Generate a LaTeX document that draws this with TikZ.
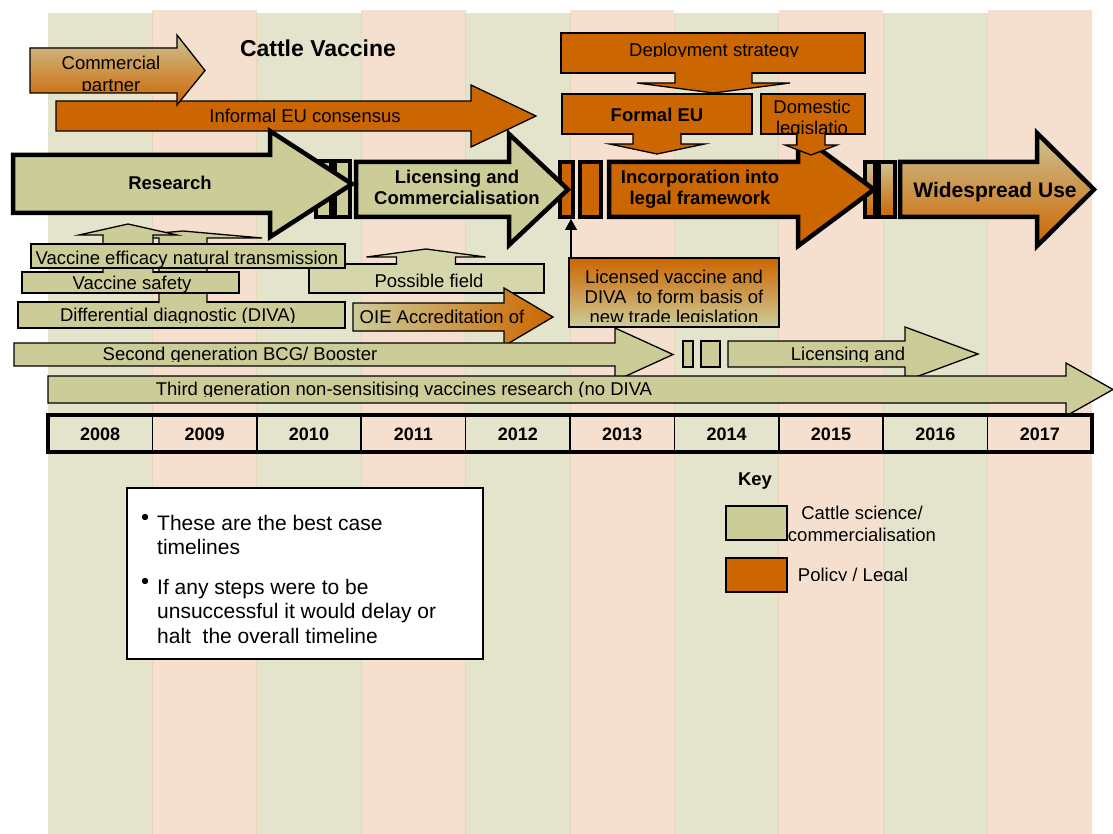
\documentclass[tikz,border=0pt]{standalone}
\usepackage{fontspec}
\setmainfont{Liberation Sans}
\usetikzlibrary{arrows.meta}

\definecolor{scienceColor}{RGB}{204,204,153}
\definecolor{policyColor}{RGB}{204,102,0}
\definecolor{tanColor}{RGB}{206,194,148}
\definecolor{greenColumn}{RGB}{227,228,203}
\definecolor{pinkColumn}{RGB}{245,224,208}
\definecolor{columnEdge}{RGB}{233,214,182}

\tikzstyle{pixelGrid} = [x=1pt, y=-1pt]
\tikzstyle{thinBorder} = [draw=black, line width=1.3pt, line join=miter]
\tikzstyle{thickBorder} = [draw=black, line width=4.5pt, line join=miter]
\tikzstyle{scienceShape} = [thinBorder, fill=scienceColor]
\tikzstyle{scienceStage} = [thickBorder, fill=scienceColor]
\tikzstyle{policyShape} = [thinBorder, fill=policyColor]
\tikzstyle{policyStage} = [thickBorder, fill=policyColor]
\tikzstyle{mixedShape} = [thinBorder, top color=tanColor, bottom color=policyColor]
\tikzstyle{mixedStage} = [thickBorder, top color=tanColor, bottom color=policyColor]
\tikzstyle{labelText} = [font=\fontsize{18.5}{21}\selectfont, inner sep=0pt, text height=13pt, text depth=0pt]
\tikzstyle{stageText} = [labelText, font=\fontsize{18.5}{21}\selectfont\bfseries]
\tikzstyle{yearText} = [stageText, font=\fontsize{18}{21}\selectfont\bfseries]
\tikzstyle{titleText} = [inner sep=0pt, text height=16.5pt, text depth=0pt, font=\fontsize{23}{26}\selectfont\bfseries]
\tikzstyle{bigStageText} = [inner sep=0pt, text height=15pt, text depth=0pt, font=\fontsize{21}{24}\selectfont\bfseries]
\tikzstyle{noteText} = [inner sep=0pt, font=\fontsize{21}{24}\selectfont]

% style, left, head start, tip, body top, body bottom, head top, head bottom
\newcommand{\rightStage}[8]{\filldraw [#1] (#2,#5) -- (#3,#5) -- (#3,#7) -- (#4,{(#5+#6)/2}) -- (#3,#8) -- (#3,#6) -- (#2,#6) -- cycle;}
% style, centre x, stem half width, head half width, stem start, head base, tip
\newcommand{\calloutPointer}[7]{\filldraw [#1] (#2-#3,#5) -- (#2-#3,#6) -- (#2-#4,#6) -- (#2,#7) -- (#2+#4,#6) -- (#2+#3,#6) -- (#2+#3,#5);}
% style, name, x, y, clip bottom, text
\newcommand{\clippedLabel}[6]{
  \begin{scope}
    \clip (#3-300,#4-30) rectangle (#3+300,#5);
    \node [#1] (#2) at (#3,#4) {#6};
  \end{scope}
}

\begin{document}
\begin{tikzpicture}[pixelGrid]
    \useasboundingbox (0,0) rectangle (1113,834);
    \fill [white] (0,0) rectangle (1113,834);
    % year columns
    \foreach \col in {0,...,9} {
      \pgfmathsetmacro{\colLeft}{48 + 104.4 * \col}
      \ifodd \col
        \fill [pinkColumn] (\colLeft,10) rectangle +(104.4,824);
      \else
        \fill [greenColumn] (\colLeft,13) rectangle +(104.4,821);
      \fi
    }
    \foreach \col in {1,...,9} {
      \draw [columnEdge, line width=.8pt] ({48 + 104.4 * \col},13) -- ++(0,821);
    }
    \node [titleText] (title) at (318,48) {Cattle Vaccine};

    % policy arrows at the top
    \rightStage{policyShape}{56}{471}{536}{101}{131}{85}{147}
    \node [labelText] (informalEU) at (305,116) {Informal EU consensus};
    \rightStage{mixedShape}{30}{177}{205}{48}{93}{35}{105}
    \node [labelText] (commercial) at (111,63) {Commercial};
    \clippedLabel{labelText}{partner}{111}{85}{91}{partner}

    % main stages
    \filldraw [scienceStage] (316,161) rectangle (331,217);
    \filldraw [scienceStage] (335,161) rectangle (350,217);
    \rightStage{scienceStage}{13}{270}{352}{155}{213}{131}{237}
    \node [stageText] (research) at (170,183) {Research};
    \filldraw [policyStage] (560,162) rectangle (573,217);
    \filldraw [policyStage] (580,162) rectangle (601,217);
    \rightStage{scienceStage}{356}{509}{568}{162}{217}{134}{245}
    \node [stageText] (licensingA) at (457,177) {Licensing and};
    \node [stageText] (licensingB) at (457,198) {Commercialisation};
    \filldraw [mixedStage] (865,162) rectangle (875,217);
    \filldraw [mixedStage] (879,162) rectangle (895,217);
    \rightStage{policyStage}{609}{798}{874}{162}{217}{133}{246}
    \node [stageText] (incorporationA) at (700,177) {Incorporation into};
    \node [stageText] (incorporationB) at (700,198) {legal framework};
    \rightStage{mixedStage}{900}{1037}{1094}{162}{217}{133}{246}
    \node [bigStageText] (widespread) at (995,190) {Widespread Use};

    % policy callouts
    \filldraw [policyShape] (562,94) rectangle (752,134);
    \calloutPointer{policyShape}{657}{24}{47.5}{133}{144}{154}
    \node [stageText] (formalEU) at (657,115) {Formal EU};
    \filldraw [policyShape] (761,94) rectangle (865,134);
    \calloutPointer{policyShape}{811}{14}{26}{133}{145}{155}
    \node [labelText] (domestic) at (812,107) {Domestic};
    \clippedLabel{labelText}{legislation}{812}{128}{134}{legislatio}
    \filldraw [policyShape] (561,33) rectangle (865,73);
    \calloutPointer{policyShape}{713.5}{38.5}{76.5}{72}{83}{93}
    \clippedLabel{labelText}{deployment}{714}{50}{56.5}{Deployment strategy}

    % research strands
    \filldraw [scienceShape] (18,302) rectangle (345,328);
    \calloutPointer{scienceShape}{183}{24}{79}{303}{238}{231}
    \clippedLabel{labelText}{diva}{178}{315}{322}{Differential diagnostic (DIVA)}
    \filldraw [scienceShape] (22,272) rectangle (239,293);
    \calloutPointer{scienceShape}{128}{25}{49}{273}{235}{224}
    \clippedLabel{labelText}{safety}{132}{283}{291}{Vaccine safety}
    \filldraw [thinBorder, fill=scienceColor!80!white] (309,264) rectangle (544,293);
    \calloutPointer{thinBorder, fill=scienceColor!80!white}{426}{29.5}{59.5}{265}{257}{249}
    \node [labelText] (fieldTrial) at (429,281) {Possible field};
    \filldraw [scienceShape] (31,244) rectangle (345,268);
    \clippedLabel{labelText}{efficacy}{187}{258}{268}{Vaccine efficacy natural transmission}
    \rightStage{thinBorder, left color=scienceColor, right color=policyColor}{353}{504}{553}{303}{331}{288}{346}
    \node [labelText] (oie) at (442,317) {OIE Accreditation of};

    % trade legislation note
    \filldraw [thinBorder, top color=policyColor, bottom color=scienceColor] (569,258) rectangle (779,327);
    \node [labelText] (licensedA) at (674,277) {Licensed vaccine and};
    \node [labelText] (licensedB) at (674,297) {DIVA\ \ to form basis of};
    \clippedLabel{labelText}{licensedC}{674}{317}{321}{new trade legislation}
    \coordinate (licensedTop) at (571,258);
    \coordinate (legalGap) at (571,219);
    \draw [line width=1.3pt, -{Triangle[length=11pt,width=12pt]}] (licensedTop) -- (legalGap);

    % later generations
    \rightStage{scienceShape}{14}{615}{673}{343}{366}{328}{381}
    \clippedLabel{labelText}{secondGen}{240}{354}{361.5}{Second generation BCG/ Booster}
    \filldraw [scienceShape] (683,341) rectangle (693,367);
    \filldraw [scienceShape] (701,341) rectangle (720,367);
    \rightStage{scienceShape}{728}{905}{978}{341}{367}{327}{381}
    \clippedLabel{labelText}{licensingLater}{848}{354}{361}{Licensing and}
    \rightStage{scienceShape}{48}{1066}{1113}{376}{403}{363}{416}
    \clippedLabel{labelText}{thirdGen}{404}{389}{396}{Third generation non-sensitising vaccines research (no DIVA}

    % year bar
    \foreach \year [count=\cell from 0] in {2008,...,2017} {
      \node [yearText] (year\year) at ({100.2 + 104.4 * \cell},434) {\year};
    }
    \foreach \cell in {1,...,9} {
      \draw [line width=1.6pt] ({48 + 104.4 * \cell},415) -- ++(0,37);
    }
    \draw [line width=4.5pt] (48,415) rectangle (1092,452);

    % caveats
    \filldraw [draw=black, fill=white, line width=1.8pt] (127,488) rectangle (483,659);
    \fill (145,517) circle (3.2);
    \fill (145,581) circle (3.2);
    \foreach \lineY/\lineText [count=\lineNo] in {530.5/These are the best case, 554.5/timelines, 594/If any steps were to be, 618.5/unsuccessful it would delay or, 643/halt\ \ the overall timeline} {
      \node [noteText, anchor=base west] (noteLine\lineNo) at (157,\lineY) {\lineText};
    }

    % key
    \node [stageText] (keyTitle) at (755,479) {Key};
    \filldraw [draw=black, line width=2pt, fill=scienceColor] (726,506) rectangle (787,540);
    \filldraw [draw=black, line width=2pt, fill=policyColor] (726,558) rectangle (787,592);
    \node [labelText] (keyScience) at (862,513) {Cattle science/};
    \clippedLabel{labelText}{keyScienceB}{862}{535}{540}{commercialisation}
    \clippedLabel{labelText}{keyPolicy}{853}{575}{580.5}{Policy / Legal}
\end{tikzpicture}
\end{document}
